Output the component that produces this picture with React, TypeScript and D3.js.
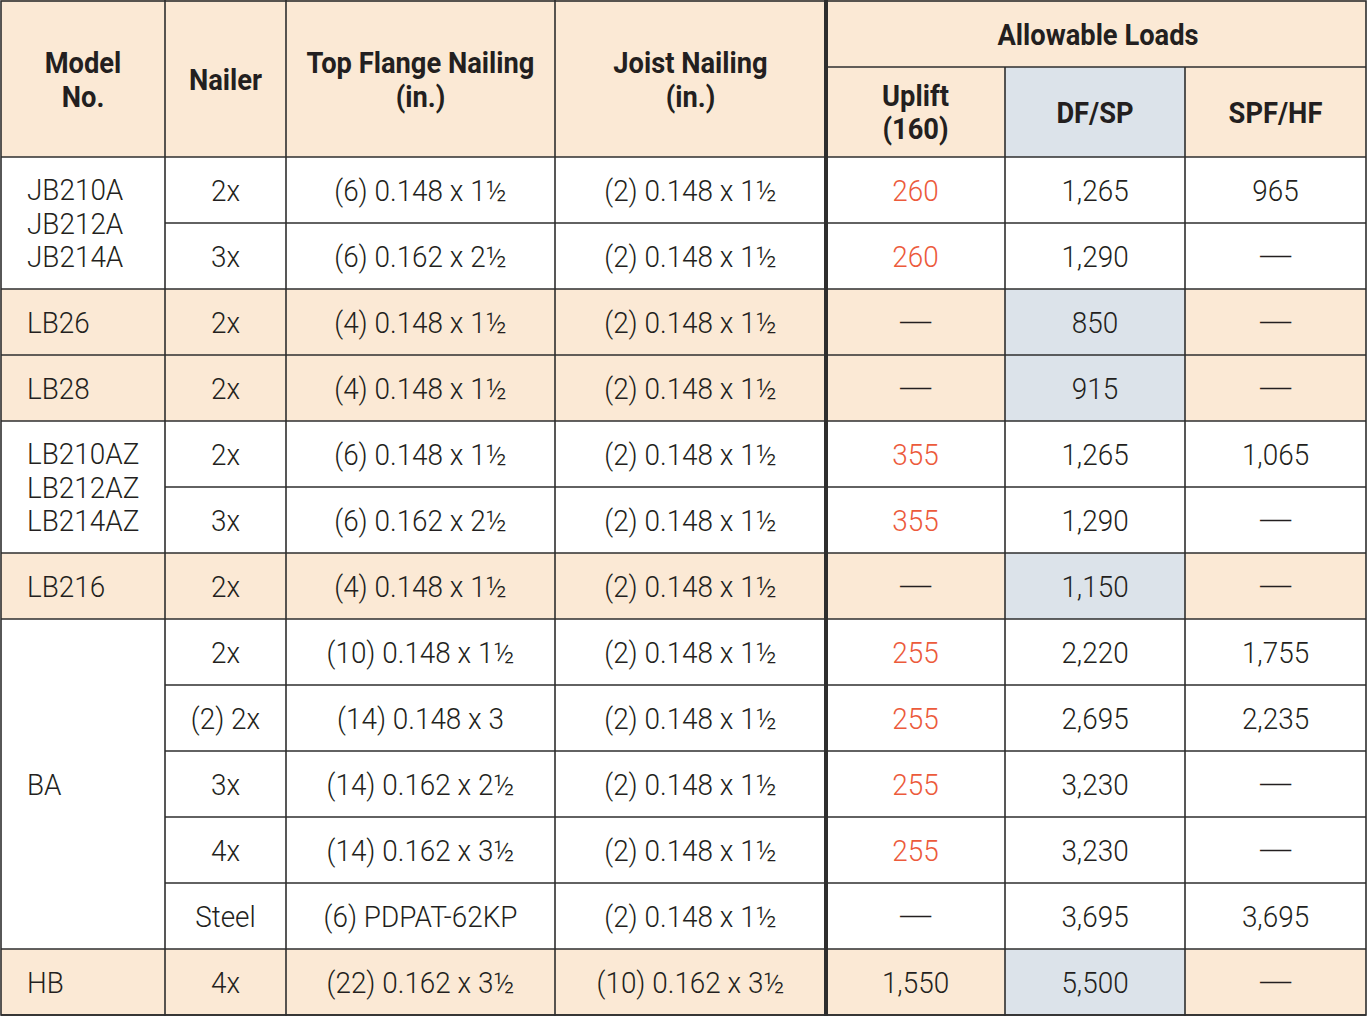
import { useEffect, useRef } from "react";
import * as d3 from "d3";

// header labels
const headLabels = [
  ["Model", "No."],
  ["Nailer"],
  ["Top Flange Nailing", "(in.)"],
  ["Joist Nailing", "(in.)"],
];
const groupLabel = "Allowable Loads";
const loadLabels = [["Uplift", "(160)"], ["DF/SP"], ["SPF/HF"]];

// model groups: name lines, row count, shaded
const models = [
  { lines: ["JB210A", "JB212A", "JB214A"], span: 2, shaded: false },
  { lines: ["LB26"], span: 1, shaded: true },
  { lines: ["LB28"], span: 1, shaded: true },
  { lines: ["LB210AZ", "LB212AZ", "LB214AZ"], span: 2, shaded: false },
  { lines: ["LB216"], span: 1, shaded: true },
  { lines: ["BA"], span: 5, shaded: false },
  { lines: ["HB"], span: 1, shaded: true },
];

const nailer = ["2x", "3x", "2x", "2x", "2x", "3x", "2x", "2x", "(2) 2x", "3x", "4x", "Steel", "4x"];
const topFlange = [
  "(6) 0.148 x 1½", "(6) 0.162 x 2½", "(4) 0.148 x 1½", "(4) 0.148 x 1½",
  "(6) 0.148 x 1½", "(6) 0.162 x 2½", "(4) 0.148 x 1½", "(10) 0.148 x 1½",
  "(14) 0.148 x 3", "(14) 0.162 x 2½", "(14) 0.162 x 3½", "(6) PDPAT-62KP", "(22) 0.162 x 3½",
];
const joist = [
  "(2) 0.148 x 1½", "(2) 0.148 x 1½", "(2) 0.148 x 1½", "(2) 0.148 x 1½",
  "(2) 0.148 x 1½", "(2) 0.148 x 1½", "(2) 0.148 x 1½", "(2) 0.148 x 1½",
  "(2) 0.148 x 1½", "(2) 0.148 x 1½", "(2) 0.148 x 1½", "(2) 0.148 x 1½", "(10) 0.162 x 3½",
];
const uplift = [260, 260, null, null, 355, 355, null, 255, 255, 255, 255, null, 1550];
const upliftRed = [true, true, false, false, true, true, false, true, true, true, true, false, false];
const dfsp = [1265, 1290, 850, 915, 1265, 1290, 1150, 2220, 2695, 3230, 3230, 3695, 5500];
const spfhf = [965, null, null, null, 1065, null, null, 1755, 2235, null, null, 3695, null];

const W = 1367;
const H = 1016;
const colEdges = [1, 165, 286, 555, 826, 1005, 1185, 1366];
const headH = 157;
const subH = 67;

const PEACH = "#fbe9d5";
const BLUE = "#dce3ea";
const RED = "#ec5a3b";
const INK = "#231f20";
const LINE = "#2e2e2e";
const FONT = "Roboto, 'Liberation Sans', sans-serif";
const DASH = "—";

function App() {
  const svgRef = useRef(null);

  useEffect(() => {
    const svg = d3.select(svgRef.current);
    svg.selectAll("*").remove();

    const nRows = nailer.length;
    const y = d3.scaleLinear().domain([0, nRows]).range([headH, H - 1]);
    const rowH = y(1) - y(0);
    const cx = (i: number) => (colEdges[i] + colEdges[i + 1]) / 2;
    const fmt = d3.format(",");
    const val = (v: number | null) => (v == null ? DASH : fmt(v));

    const rowShaded: boolean[] = [];
    models.forEach(m => { for (let k = 0; k < m.span; k++) rowShaded.push(m.shaded); });

    // backgrounds
    svg.append("rect").attr("x", 0).attr("y", 0).attr("width", W).attr("height", H).attr("fill", "#fff");
    svg.append("rect").attr("x", colEdges[0]).attr("y", 0).attr("width", colEdges[7] - colEdges[0])
      .attr("height", headH).attr("fill", PEACH);
    svg.append("rect").attr("x", colEdges[5]).attr("y", subH).attr("width", colEdges[6] - colEdges[5])
      .attr("height", headH - subH).attr("fill", BLUE);

    svg.append("g").selectAll("rect").data(rowShaded).join("rect")
      .attr("x", colEdges[0]).attr("y", (d, i) => y(i))
      .attr("width", colEdges[7] - colEdges[0]).attr("height", rowH)
      .attr("fill", d => (d ? PEACH : "none"));
    svg.append("g").selectAll("rect").data(rowShaded).join("rect")
      .attr("x", colEdges[5]).attr("y", (d, i) => y(i))
      .attr("width", colEdges[6] - colEdges[5]).attr("height", rowH)
      .attr("fill", d => (d ? BLUE : "none"));

    // grid lines
    const grid = svg.append("g").attr("stroke", LINE).attr("stroke-width", 1.6);
    grid.append("line").attr("x1", colEdges[4]).attr("x2", colEdges[7]).attr("y1", subH).attr("y2", subH);
    [5, 6].forEach(i => grid.append("line").attr("x1", colEdges[i]).attr("x2", colEdges[i])
      .attr("y1", subH).attr("y2", headH));
    [1, 2, 3].forEach(i => grid.append("line").attr("x1", colEdges[i]).attr("x2", colEdges[i])
      .attr("y1", 0).attr("y2", H));
    [5, 6].forEach(i => grid.append("line").attr("x1", colEdges[i]).attr("x2", colEdges[i])
      .attr("y1", headH).attr("y2", H));
    let start = 0;
    const groupStarts = new Set<number>();
    models.forEach(m => { groupStarts.add(start); start += m.span; });
    for (let r = 0; r <= nRows; r++) {
      const x1 = groupStarts.has(r) || r === nRows ? colEdges[0] : colEdges[1];
      grid.append("line").attr("x1", x1).attr("x2", colEdges[7]).attr("y1", y(r)).attr("y2", y(r));
    }
    grid.append("rect").attr("x", colEdges[0]).attr("y", 1).attr("width", colEdges[7] - colEdges[0])
      .attr("height", H - 2).attr("fill", "none");
    svg.append("line").attr("x1", colEdges[4]).attr("x2", colEdges[4]).attr("y1", 0).attr("y2", H)
      .attr("stroke", LINE).attr("stroke-width", 4);

    const text = svg.append("g").attr("font-family", FONT).attr("fill", INK);
    const lineGap = 33.5;
    const put = (g: any, lines: string[], x: number, cy: number, size: number, sx: number, anchor = "middle") => {
      const top = cy - ((lines.length - 1) * lineGap) / 2;
      lines.forEach((s, k) => {
        const scaleX = s === DASH ? 1.6 : sx;
        g.append("text")
          .attr("transform", `translate(${x},${top + k * lineGap + size * 0.355}) scale(${scaleX},1)`)
          .attr("text-anchor", anchor).attr("font-size", size).text(s);
      });
    };

    // header text
    const head = text.append("g").attr("font-weight", 700);
    const HS = 0.91;
    headLabels.forEach((l, i) => put(head, l, cx(i), headH / 2 + 1, 30, HS));
    put(head, [groupLabel], (colEdges[4] + colEdges[7]) / 2 + 2, subH / 2 + 1, 30, HS);
    loadLabels.forEach((l, i) => put(head, l, cx(i + 4), (subH + headH) / 2, 30, HS));

    // body text
    const body = text.append("g").attr("font-weight", 300);
    const FS = 30;
    const BS = 0.93;
    let r0 = 0;
    models.forEach(m => {
      put(body, m.lines, 27, (y(r0) + y(r0 + m.span)) / 2, FS, BS, "start");
      r0 += m.span;
    });
    nailer.forEach((s, i) => {
      const cy = y(i) + rowH / 2;
      put(body, [s], cx(1), cy, FS, BS);
      put(body, [topFlange[i]], cx(2), cy, FS, BS);
      put(body, [joist[i]], cx(3), cy, FS, BS);
      const u = body.append("g").attr("fill", upliftRed[i] ? RED : INK);
      put(u, [val(uplift[i])], cx(4), cy, FS, BS);
      put(body, [val(dfsp[i])], cx(5), cy, FS, BS);
      put(body, [val(spfhf[i])], cx(6), cy, FS, BS);
    });
  }, []);

  return (
    <svg
      ref={svgRef}
      width={W}
      height={H}
      style={{ position: "absolute", left: 0, top: 0, display: "block" }}
    />
  );
}

export default App;
